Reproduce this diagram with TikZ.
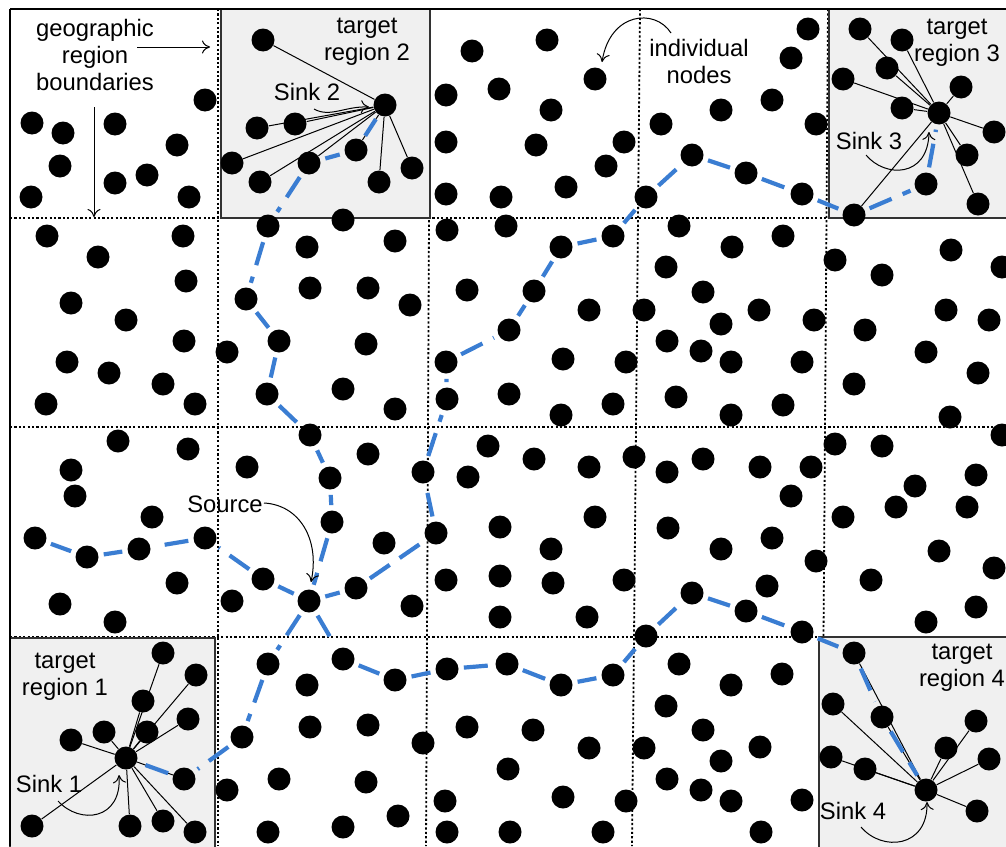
\documentclass[tikz,border=0pt]{standalone}
\usepackage{fontspec}
\setmainfont{Liberation Sans}
\usetikzlibrary{arrows.meta}
\pgfdeclarelayer{grid}
\pgfdeclarelayer{links}
\pgfsetlayers{grid,links,main}
\definecolor{pathblue}{RGB}{58,125,210}
\definecolor{regiongray}{RGB}{240,240,240}
\definecolor{edgegray}{RGB}{50,50,50}
\begin{document}
\begin{tikzpicture}[x=0.5pt,y=-0.5pt,
  dot/.style={circle,fill=black,inner sep=0pt,minimum size=11.5pt},
  link/.style={draw=black,line width=0.5pt},
  blueseg/.style={draw=pathblue,line width=2.1pt,shorten <=2.5pt,shorten >=2.5pt,dash pattern=on 12pt off 6pt},
  gridline/.style={draw=black,line width=0.9pt,dash pattern=on 1.1pt off 1.1pt},
  region/.style={fill=regiongray,draw=edgegray,line width=0.6pt},
  lbl/.style={font=\fontsize{11.9pt}{13.5pt}\selectfont,align=center,inner sep=0pt},
  arr/.style={-{To[length=4pt,width=6.5pt]},line width=0.5pt}]
\useasboundingbox (0,0) rectangle (1006,846);

% ---------- grid and target regions ----------
\begin{pgfonlayer}{grid}
\draw[gridline] (10,218) -- (1006,218);
\draw[gridline] (10,427) -- (1006,427);
\draw[gridline] (10,637) -- (1006,637);
\draw[gridline] (218,9) -- (218,846);
\draw[gridline] (430,9) -- (426,846);
\draw[gridline] (640,9) -- (632,846);
\draw[gridline] (828,9) -- (822,846);
\draw[region] (221,9) rectangle (430,218);
\draw[region] (829,9) rectangle (1012,218);
\draw[region] (10,638) rectangle (215,852);
\draw[region] (819,637) rectangle (1012,852);
\draw[line width=1pt] (10,9) -- (1006,9);
\draw[line width=1pt] (10,9) -- (10,846);
\end{pgfonlayer}

% ---------- sinks and source ----------
\node[dot] (s1) at (126,758) {};
\node[dot] (s2) at (385,105) {};
\node[dot] (s3) at (939,113) {};
\node[dot] (s4) at (926,790) {};
\node[dot] (src) at (309,601) {};

% ---------- path nodes ----------
\node[dot] (a1) at (356,150) {};
\node[dot] (a2) at (309,163) {};
\node[dot] (a3) at (268,226) {};
\node[dot] (a4) at (246,299) {};
\node[dot] (a5) at (279,341) {};
\node[dot] (a6) at (267,394) {};
\node[dot] (a7) at (310,435) {};
\node[dot] (a8) at (330,478) {};
\node[dot] (a9) at (332,522) {};

\node[dot] (b1) at (263,579) {};
\node[dot] (b2) at (205,538) {};
\node[dot] (b3) at (139,549) {};
\node[dot] (b4) at (87,557) {};
\node[dot] (b5) at (35,538) {};

\node[dot] (c1) at (356,588) {};
\node[dot] (c2) at (436,533) {};
\node[dot] (c3) at (423,472) {};
\node[dot] (c4) at (447,399) {};
\node[dot] (c5) at (446,362) {};
\node[dot] (c6) at (509,330) {};
\node[dot] (c7) at (534,291) {};
\node[dot] (c8) at (561,247) {};
\node[dot] (c9) at (613,236) {};
\node[dot] (c10) at (646,197) {};
\node[dot] (c11) at (692,155) {};
\node[dot] (c12) at (746,173) {};
\node[dot] (c13) at (802,194) {};
\node[dot] (c14) at (854,215) {};
\node[dot] (c15) at (926,184) {};

\node[dot] (d1) at (268,664) {};
\node[dot] (d2) at (242,737) {};
\node[dot] (d3) at (184,779) {};

\node[dot] (e1) at (343,659) {};
\node[dot] (e2) at (395,680) {};
\node[dot] (e3) at (447,669) {};
\node[dot] (e4) at (507,664) {};
\node[dot] (e5) at (561,685) {};
\node[dot] (e6) at (613,675) {};
\node[dot] (e7) at (646,636) {};
\node[dot] (e8) at (692,593) {};
\node[dot] (e9) at (746,611) {};
\node[dot] (e10) at (802,632) {};
\node[dot] (e11) at (854,653) {};
\node[dot] (e12) at (882,717) {};

% ---------- region members linked to sinks ----------
\foreach \x/\y [count=\i] in {263/40,257/128,295/124,232/163,260/182,379/182,412/168}
  \node[dot] (m2-\i) at (\x,\y) {};
\foreach \x/\y [count=\i] in {860/29,902/40,887/68,843/79,961/87,902/108,994/132,967/155,978/204}
  \node[dot] (m3-\i) at (\x,\y) {};
\foreach \x/\y [count=\i] in {163/653,143/701,196/675,188/719,147/732,104/732,71/740,32/826,130/826,163/821,195/832}
  \node[dot] (m1-\i) at (\x,\y) {};
\foreach \x/\y [count=\i] in {833/704,831/757,865/769,946/748,976/721,989/759,977/811}
  \node[dot] (m4-\i) at (\x,\y) {};

% ---------- other individual nodes ----------
\foreach \x/\y [count=\i] in {
  32/123,63/133,115/124,60/166,177/145,115/183,147/175,31/197,189/197,205/100,
  472/51,446/95,499/89,547/40,595/79,551/110,536/145,624/142,446/142,606/166,566/187,446/194,501/197,
  661/124,721/110,808/29,791/58,772/100,816/124,
  47/236,183/236,98/257,186/281,71/303,126/320,184/341,67/362,109/373,163/384,46/404,195/404,
  227/352,343/220,307/247,395/241,310/288,368/288,410/305,366/344,343/389,395/409,
  447/230,506/226,467/290,589/310,644/310,563/359,626/362,509/394,613/404,561/415,
  679/226,732/247,666/267,703/292,721/324,667/341,701/351,731/362,676/397,731/415,
  759/310,814/320,802/362,783/405,783/236,835/260,
  882/275,951/250,1002/267,865/330,946/310,989/320,926/352,978/373,854/384,950/417,
  118/441,188/449,71/470,75/496,152/517,177/583,60/604,115/622,
  247/467,368/454,384/543,412/606,232/601,
  488/446,468/477,534/459,589/467,634/457,500/527,595/517,551/549,446/580,500/576,500/617,553/583,624/580,587/617,
  667/472,703/459,668/528,721/549,760/467,811/467,791/496,772/538,767/586,816/561,
  835/444,882/446,1002/435,915/486,976/475,843/517,896/507,967/507,939/551,994/568,871/580,976/607,926/622,
  307/685,310/727,368/725,423/743,279/779,366/782,398/816,268/832,343/827,227/790,
  467/727,533/730,589/748,445/801,447/832,508/769,563/797,510/832,603/832,626/801,
  679/664,731/685,666/706,644/748,703/730,721/761,667/779,701/790,731/801,760/747,761/832,782/674,802/800}
  \node[dot] (n\i) at (\x,\y) {};

% ---------- connectors ----------
\begin{pgfonlayer}{links}
\foreach \t in {m2-1,m2-2,m2-3,m2-4,m2-5,m2-6,m2-7,a1,a2}
  \draw[link] (s2) -- (\t);
\foreach \t in {m3-1,m3-2,m3-3,m3-4,m3-5,m3-6,m3-7,m3-8,m3-9,c14}
  \draw[link] (s3) -- (\t);
\foreach \t in {m1-1,m1-2,m1-3,m1-4,m1-5,m1-6,m1-7,m1-8,m1-9,m1-10,m1-11,d3}
  \draw[link] (s1) -- (\t);
\foreach \t in {m4-1,m4-2,m4-3,m4-4,m4-5,m4-6,m4-7,e11,e12}
  \draw[link] (s4) -- (\t);
% blue routes
\foreach \u/\v in {s2/a1,a1/a2,a2/a3,a3/a4,a4/a5,a5/a6,a6/a7,a7/a8,a8/a9,a9/src,
  src/b1,b1/b2,b2/b3,b3/b4,b4/b5,
  src/c1,c1/c2,c2/c3,c3/c4,c4/c5,c5/c6,c6/c7,c7/c8,c8/c9,c9/c10,c10/c11,c11/c12,c12/c13,c13/c14,c14/c15,c15/s3,
  src/d1,d1/d2,d2/d3,d3/s1,
  src/e1,e1/e2,e2/e3,e3/e4,e4/e5,e5/e6,e6/e7,e7/e8,e8/e9,e9/e10,e10/e11,e11/e12,e12/s4}
  \draw[blueseg] (\u) -- (\v);
\end{pgfonlayer}

% ---------- labels ----------
\node[lbl] (geo) at (95,55) {geographic\\region\\boundaries};
\coordinate (geoR1) at (137,47);
\coordinate (geoR2) at (210,47);
\coordinate (geoD1) at (94,107);
\coordinate (geoD2) at (94,217);
\draw[arr] (geoR1) -- (geoR2);
\draw[arr] (geoD1) -- (geoD2);

\node[lbl] (tr2) at (367,42) {target\\region 2};
\node[lbl] (tr3) at (957,43) {target\\region 3};
\node[lbl] (tr1) at (65,677) {target\\region 1};
\node[lbl] (tr4) at (962,668) {target\\region 4};
\node[lbl] (ind) at (699,61) {individual\\nodes};
\node[lbl] (lsrc) at (225,504) {Source};
\node[lbl] (ls1) at (49,784) {Sink 1};
\node[lbl] (ls2) at (307,92) {Sink 2};
\node[lbl] (ls3) at (869,141) {Sink 3};
\node[lbl] (ls4) at (853,811) {Sink 4};

\coordinate (ia) at (671,33);
\coordinate (ib) at (602,62);
\draw[arr] (ia) .. controls (655,8) and (610,12) .. (ib);
\coordinate (sa) at (264,503);
\coordinate (sb) at (311,582);
\draw[arr] (sa) .. controls (300,505) and (320,540) .. (sb);
\coordinate (k2a) at (314,109);
\coordinate (k2b) at (369,107);
\draw[arr] (k2a) .. controls (330,118) and (345,106) .. (k2b);
\coordinate (k3a) at (866,155);
\coordinate (k3b) at (929,132);
\draw[arr] (k3a) .. controls (885,178) and (928,178) .. (k3b);
\coordinate (k1a) at (58,801);
\coordinate (k1b) at (119,775);
\draw[arr] (k1a) .. controls (80,825) and (122,820) .. (k1b);
\coordinate (k4a) at (861,827);
\coordinate (k4b) at (927,802);
\draw[arr] (k4a) .. controls (882,852) and (928,848) .. (k4b);
\end{tikzpicture}
\end{document}
